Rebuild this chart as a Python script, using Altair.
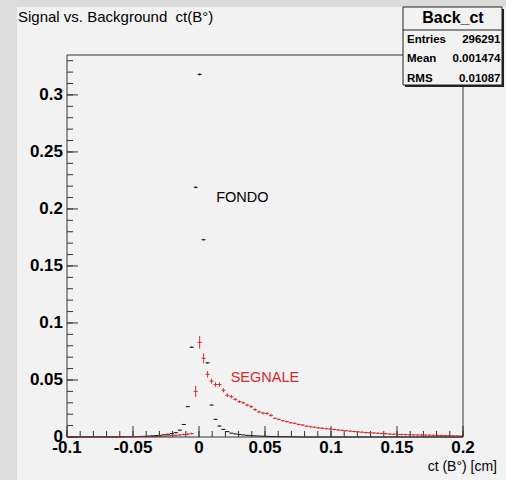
import altair as alt
import pandas as pd

# ---------------- data ----------------
X_MIN, X_MAX, N_BINS = -0.1, 0.2, 100
Y_MAX = 0.335

# background ("FONDO"), bins 0..99
fondo = (
    [0.0] * 14
    + [0.0001, 0.0002, 0.0003, 0.0004, 0.0005, 0.0006, 0.0008, 0.0010, 0.0012, 0.0015,
       0.0019, 0.0024, 0.0030, 0.0038, 0.0060, 0.0110, 0.0266, 0.0787, 0.2190, 0.3180,
       0.1730, 0.0650, 0.0280, 0.0155, 0.0096, 0.0067, 0.0047, 0.0034, 0.0027, 0.0022,
       0.0018, 0.0015, 0.0012, 0.0010, 0.0008, 0.0007, 0.0006, 0.0005, 0.0004, 0.0003,
       0.0003, 0.0002, 0.0002, 0.0001, 0.0001]
    + [0.0] * 41
)
fondo_err = (
    [0.0001] * 28
    + [0.0003, 0.0003, 0.0003, 0.0006, 0.0008, 0.0009, 0.0007, 0.0005, 0.0003, 0.0003,
       0.0003, 0.0003, 0.0003]
    + [0.0001] * 59
)

# signal ("SEGNALE"), bins 0..99
segnale = (
    [0.0003] * 21
    + [0.0004, 0.0005, 0.0006, 0.0008, 0.0010, 0.0012, 0.0015, 0.0018, 0.0022, 0.0025, 0.0030]
    + [0.0400, 0.0830, 0.0690, 0.0550, 0.0490, 0.0460, 0.0460, 0.0410, 0.0366, 0.0354,
       0.0330, 0.0310, 0.0300, 0.0280, 0.0266, 0.0240, 0.0220, 0.0210, 0.0207, 0.0190,
       0.0164, 0.0155, 0.0143, 0.0135, 0.0125, 0.0120, 0.0110, 0.0105, 0.0095]
    + [0.0090, 0.0085, 0.0080, 0.0077, 0.0073, 0.0070, 0.0066, 0.0062, 0.0058, 0.0055,
       0.0051, 0.0048, 0.0045, 0.0042, 0.0039, 0.0037, 0.0035, 0.0033, 0.0031, 0.0029,
       0.0026, 0.0024, 0.0023, 0.0022, 0.0021, 0.0020, 0.0019, 0.0018, 0.0018, 0.0017,
       0.0016, 0.0015, 0.0014, 0.0013, 0.0012, 0.0011, 0.0010, 0.0009, 0.0008]
)
segnale_err = (
    [0.0002] * 27
    + [0.0008, 0.0008, 0.0008, 0.0008, 0.0008]
    + [0.0050, 0.0055, 0.0044, 0.0028, 0.0022, 0.0020, 0.0020, 0.0018, 0.0016, 0.0016]
    + [0.0012, 0.0012, 0.0012, 0.0012, 0.0012, 0.0012, 0.0012, 0.0012, 0.0012, 0.0012]
    + [0.0007] * 48
)

x_major = [-0.1, -0.05, 0.0, 0.05, 0.1, 0.15, 0.2]
x_labels = ["-0.1", "-0.05", "0", "0.05", "0.1", "0.15", "0.2"]
x_minor = [round(-0.1 + 0.01 * i, 2) for i in range(31)]
y_major = [0.0, 0.05, 0.1, 0.15, 0.2, 0.25, 0.3]
y_labels = ["0", "0.05", "0.1", "0.15", "0.2", "0.25", "0.3"]
y_minor = [round(0.01 * i, 2) for i in range(34)]

stats_title = "Back_ct"
stats_labels = ["Entries", "Mean", "RMS"]
stats_values = ["296291", "0.001474", "0.01087"]

title_text = "Signal vs. Background\u00a0 ct(B°)"
x_title = "ct (B°) [cm]"

# ---------------- build tables ----------------
w = (X_MAX - X_MIN) / N_BINS


def hist_df(vals, errs):
    rows = []
    for k, (v, e) in enumerate(zip(vals, errs)):
        lo = X_MIN + k * w
        rows.append(dict(lo=lo, hi=lo + w, c=lo + w / 2, v=v,
                         ylo=max(v - e, 0.0), yhi=v + e))
    return pd.DataFrame(rows)


df_f = hist_df(fondo, fondo_err)
df_s = hist_df(segnale, segnale_err)

PW, PH = 396, 382
FONT = "Liberation Sans"
RED = "#d42a2a"
DARK = "#333333"

xs = alt.Scale(domain=[X_MIN, X_MAX], nice=False, zero=False)
ys = alt.Scale(domain=[0, Y_MAX], nice=False, zero=False)


def X(f):
    return alt.X(f, type="quantitative", scale=xs, axis=None)


def Y(f):
    return alt.Y(f, type="quantitative", scale=ys, axis=None)


one = pd.DataFrame({"a": [0]})
layers = []

# grey canvas strips (left and top)
layers.append(alt.Chart(one).mark_rect(color="#dcdcdc").encode(
    x=alt.value(-67), x2=alt.value(-50), y=alt.value(-55), y2=alt.value(425)))
layers.append(alt.Chart(one).mark_rect(color="#dcdcdc").encode(
    x=alt.value(-67), x2=alt.value(439), y=alt.value(-55), y2=alt.value(-48)))

# background histogram (black)
layers.append(alt.Chart(df_f).mark_rule(color="#111111", strokeWidth=1).encode(
    x=X("lo"), x2="hi:Q", y=Y("v")))
layers.append(alt.Chart(df_f).mark_rule(color="#111111", strokeWidth=1).encode(
    x=X("c"), y=Y("ylo"), y2="yhi:Q"))

# ticks (inside, ROOT style)
layers.append(alt.Chart(pd.DataFrame({"t": x_minor})).mark_rule(color=DARK).encode(
    x=X("t"), y=alt.value(PH), y2=alt.value(PH - 6)))
layers.append(alt.Chart(pd.DataFrame({"t": x_major})).mark_rule(color=DARK).encode(
    x=X("t"), y=alt.value(PH), y2=alt.value(PH - 11)))
layers.append(alt.Chart(pd.DataFrame({"t": y_minor})).mark_rule(color=DARK).encode(
    y=Y("t"), x=alt.value(0), x2=alt.value(6)))
layers.append(alt.Chart(pd.DataFrame({"t": y_major})).mark_rule(color=DARK).encode(
    y=Y("t"), x=alt.value(0), x2=alt.value(11)))

# signal histogram (red)
layers.append(alt.Chart(df_s).mark_rule(color=RED, strokeWidth=1).encode(
    x=X("lo"), x2="hi:Q", y=Y("v")))
layers.append(alt.Chart(df_s).mark_rule(color=RED, strokeWidth=1).encode(
    x=X("c"), y=Y("ylo"), y2="yhi:Q"))

# frame
for enc in [dict(x=alt.value(0), x2=alt.value(PW), y=alt.value(0)),
            dict(x=alt.value(0), x2=alt.value(PW), y=alt.value(PH)),
            dict(x=alt.value(0), y=alt.value(0), y2=alt.value(PH)),
            dict(x=alt.value(PW), y=alt.value(0), y2=alt.value(PH))]:
    layers.append(alt.Chart(one).mark_rule(color=DARK, strokeWidth=1).encode(**enc))

# axis labels (placed through the scales)
layers.append(alt.Chart(pd.DataFrame({"t": x_major, "lab": x_labels})).mark_text(
    font=FONT, fontSize=17, fontWeight="bold", color="black", align="center",
    baseline="top").encode(x=X("t"), y=alt.value(PH + 3), text="lab:N"))
layers.append(alt.Chart(pd.DataFrame({"t": y_major, "lab": y_labels})).mark_text(
    font=FONT, fontSize=17, fontWeight="bold", color="black", align="right",
    baseline="middle").encode(y=Y("t"), x=alt.value(-4), text="lab:N"))
layers.append(alt.Chart(one).mark_text(
    text=x_title, font=FONT, fontSize=14, color="black", align="right",
    baseline="alphabetic").encode(x=alt.value(430), y=alt.value(PH + 34)))

# annotations
layers.append(alt.Chart(one).mark_text(
    text="FONDO", font=FONT, fontSize=14.5, color="black", align="left",
    baseline="middle").encode(
    x=alt.datum(0.013, scale=xs, axis=None),
    y=alt.datum(0.2096, scale=ys, axis=None)))
layers.append(alt.Chart(one).mark_text(
    text="SEGNALE", font=FONT, fontSize=14.5, color=RED, align="left",
    baseline="middle").encode(
    x=alt.datum(0.024, scale=xs, axis=None),
    y=alt.datum(0.0515, scale=ys, axis=None)))

# title
layers.append(alt.Chart(one).mark_text(
    text=title_text, font=FONT, fontSize=15, color="black", align="left",
    baseline="alphabetic").encode(x=alt.value(-49), y=alt.value(-33)))

# stats box
layers.append(alt.Chart(one).mark_rect(color="#222222").encode(
    x=alt.value(338), x2=alt.value(437), y=alt.value(-46), y2=alt.value(32)))
layers.append(alt.Chart(one).mark_rect(fill="#f2f2f2", stroke="#222222",
                                       strokeWidth=1).encode(
    x=alt.value(336), x2=alt.value(435), y=alt.value(-48), y2=alt.value(30)))
layers.append(alt.Chart(one).mark_rule(color="#222222").encode(
    x=alt.value(336), x2=alt.value(435), y=alt.value(-25)))
layers.append(alt.Chart(one).mark_text(
    text=stats_title, font=FONT, fontSize=16, fontWeight="bold", color="black",
    align="center", baseline="alphabetic").encode(
    x=alt.value(386), y=alt.value(-32)))
for i, (lab, val) in enumerate(zip(stats_labels, stats_values)):
    yb = -12.5 + 19.5 * i
    layers.append(alt.Chart(one).mark_text(
        text=lab, font=FONT, fontSize=11.5, fontWeight="bold", color="black",
        align="left", baseline="alphabetic").encode(
        x=alt.value(340), y=alt.value(yb)))
    layers.append(alt.Chart(one).mark_text(
        text=val, font=FONT, fontSize=11.5, fontWeight="bold", color="black",
        align="right", baseline="alphabetic").encode(
        x=alt.value(433.5), y=alt.value(yb)))

chart = alt.layer(*layers).properties(
    width=PW, height=PH,
    padding={"left": 67, "top": 55, "right": 43, "bottom": 43},
    autosize="none",
    background="#f2f2f2",
).configure_view(strokeWidth=0)

chart.save("out.html", embed_options={"renderer": "svg", "actions": False})
